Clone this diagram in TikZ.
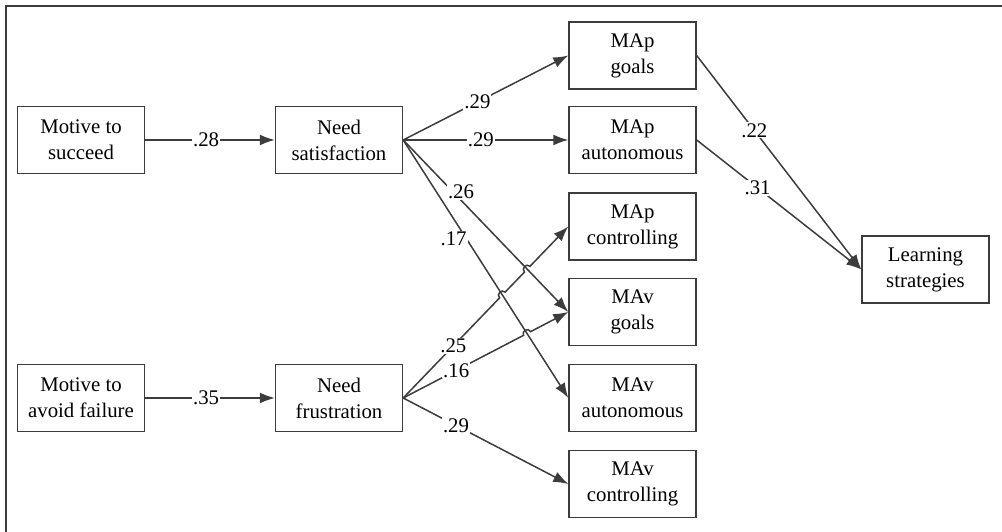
\documentclass[tikz,border=0pt]{standalone}
\usepackage{fontspec}
\setmainfont{Liberation Serif}
\newfontfamily\figfont{Liberation Serif}
\usetikzlibrary{arrows.meta,calc}
\definecolor{pathgray}{HTML}{3C3C3C}
\tikzset{
  var/.style={draw=pathgray, line width=1.4pt, minimum width=127pt, minimum height=67pt,
    align=center, inner sep=0pt, font=\figfont\fontsize{20.8}{26}\selectfont},
  coef/.style={draw=pathgray, line width=1.5pt, -{Latex[length=15pt,width=11pt]}},
  wt/.style={fill=white, inner sep=1pt, font=\figfont\fontsize{20.8}{26}\selectfont},
}
\begin{document}
\begin{tikzpicture}[x=1pt,y=1pt]
\useasboundingbox (0,0) rectangle (1002,532);
% frame (only left and top edges show)
\draw[pathgray, line width=1.5pt] (6,0) -- (6,526) -- (1002,526);
% variables
\node[var] (ms)   at (81,392)    {Motive to\\succeed};
\node[var] (ns)   at (339,392)   {Need\\satisfaction};
\node[var] (maf)  at (81,134)    {Motive to\\avoid failure};
\node[var] (nf)   at (339,134)   {Need\\frustration};
\node[var] (mapg) at (632.5,476.5) {MAp\\goals};
\node[var] (mapa) at (632.5,392)   {MAp\\autonomous};
\node[var] (mapc) at (632.5,305.5) {MAp\\controlling};
\node[var] (mavg) at (632.5,220)   {MAv\\goals};
\node[var] (mava) at (632.5,134)   {MAv\\autonomous};
\node[var] (mavc) at (632.5,48)    {MAv\\controlling};
\node[var] (ls)   at (925.5,262.5) {Learning\\strategies};
% crossing points for the line jumps
\coordinate (j1) at (intersection of ns.east--mava.west and nf.east--mapc.west);
\coordinate (j2) at (intersection of ns.east--mavg.west and nf.east--mapc.west);
\coordinate (j3) at (intersection of ns.east--mava.west and nf.east--mavg.west);
\coordinate (j1a) at ($(j1)!4pt!(nf.east)$);
\coordinate (j1b) at ($(j1)!4pt!(mapc.west)$);
\coordinate (j2a) at ($(j2)!4pt!(nf.east)$);
\coordinate (j2b) at ($(j2)!4pt!(mapc.west)$);
\coordinate (j3a) at ($(j3)!4pt!(nf.east)$);
\coordinate (j3b) at ($(j3)!4pt!(mavg.west)$);
% paths
\draw[coef] (ms) -- node[wt, pos=0.47] {.28} (ns);
\draw[coef] (maf) -- node[wt, pos=0.47] {.35} (nf);
\draw[coef] (ns.east) -- node[wt, pos=0.45] {.29} (mapg.west);
\draw[coef] (ns.east) -- node[wt, pos=0.47] {.29} (mapa.west);
\draw[coef] (ns.east) -- node[wt, pos=0.32, xshift=5pt, yshift=3pt] {.26} (mavg.west);
\draw[coef] (ns.east) -- node[wt, pos=0.36, xshift=-9pt, yshift=-6pt] {.17} (mava.west);
\draw[coef] (nf.east) -- node[wt, pos=0.52] {.25} (j1a)
  .. controls ($(j1a)!5pt!90:(j1b)$) and ($(j1b)!5pt!-90:(j1a)$) .. (j1b) -- (j2a)
  .. controls ($(j2a)!5pt!90:(j2b)$) and ($(j2b)!5pt!-90:(j2a)$) .. (j2b) -- (mapc.west);
\draw[coef] (nf.east) -- node[wt, pos=0.44] {.16} (j3a)
  .. controls ($(j3a)!5pt!90:(j3b)$) and ($(j3b)!5pt!-90:(j3a)$) .. (j3b) -- (mavg.west);
\draw[coef] (nf.east) -- node[wt, pos=0.32] {.29} (mavc.west);
\draw[coef] (mapg.east) -- node[wt, pos=0.35] {.22} (ls.west);
\draw[coef] (mapa.east) -- node[wt, pos=0.37] {.31} (ls.west);
\end{tikzpicture}
\end{document}
